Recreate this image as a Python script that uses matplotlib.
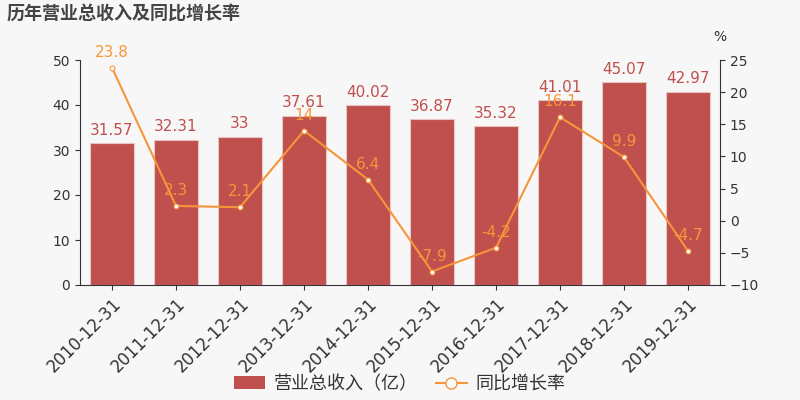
import numpy as np
import matplotlib.pyplot as plt
from matplotlib.patches import Patch
from matplotlib.lines import Line2D

plt.rcParams['font.family'] = ['DejaVu Sans', 'Noto Sans CJK SC']

dates = ["2010-12-31", "2011-12-31", "2012-12-31", "2013-12-31", "2014-12-31",
         "2015-12-31", "2016-12-31", "2017-12-31", "2018-12-31", "2019-12-31"]
revenue = [31.57, 32.31, 33, 37.61, 40.02, 36.87, 35.32, 41.01, 45.07, 42.97]
revenue_labels = ["31.57", "32.31", "33", "37.61", "40.02", "36.87", "35.32", "41.01", "45.07", "42.97"]
growth = [23.8, 2.3, 2.1, 14, 6.4, -7.9, -4.2, 16.1, 9.9, -4.7]
growth_labels = ["23.8", "2.3", "2.1", "14", "6.4", "-7.9", "-4.2", "16.1", "9.9", "-4.7"]

bar_color = '#c0504d'
line_color = '#f7953a'
bg = '#f7f7f7'
text_color = '#333333'

fig = plt.figure(figsize=(8, 4), dpi=100, facecolor=bg)
ax = fig.add_axes([0.1, 0.2875, 0.8, 0.5625], facecolor=bg)
x = np.arange(len(dates))

ax.bar(x, revenue, width=0.7, color=bar_color, edgecolor='#e8c4c3', linewidth=0.8, zorder=2)
for xi, v, lab in zip(x, revenue, revenue_labels):
    ax.text(xi, v + 1.2, lab, ha='center', va='bottom', color=bar_color, fontsize=11)

ax.set_ylim(0, 50)
ax.set_xlim(-0.5, len(dates) - 0.5)
ax.set_yticks([0, 10, 20, 30, 40, 50])
ax.set_xticks(x)
ax.set_xticklabels(dates, rotation=45, ha='right', rotation_mode='anchor', fontsize=12, color=text_color)
ax.tick_params(axis='y', labelsize=10, colors=text_color)
ax.tick_params(axis='x', colors=text_color)
for s in ['top', 'right']:
    ax.spines[s].set_visible(False)
ax.spines['left'].set_color(text_color)
ax.spines['bottom'].set_color(text_color)

ax2 = ax.twinx()
ax2.plot(x, growth, color=line_color, linewidth=1.5, marker='o', markersize=3.5,
         markerfacecolor='white', markeredgecolor=line_color, markeredgewidth=0.8, zorder=3)
for xi, v, lab in zip(x, growth, growth_labels):
    ax2.text(xi, v + 1.2, lab, ha='center', va='bottom', color=line_color, fontsize=11)
ax2.set_ylim(-10, 25)
ax2.set_yticks([-10, -5, 0, 5, 10, 15, 20, 25])
ax2.tick_params(axis='y', labelsize=10, colors=text_color)
for s in ['top', 'left', 'bottom']:
    ax2.spines[s].set_visible(False)
ax2.spines['right'].set_color(text_color)
ax2.text(1.0, 1.07, '%', transform=ax2.transAxes, ha='center', va='bottom', fontsize=10, color=text_color)

fig.text(0.008, 0.965, '历年营业总收入及同比增长率', fontsize=13, fontweight='bold', color='#444444', va='center')

handles = [Patch(facecolor=bar_color, label='营业总收入（亿）'),
           Line2D([0], [0], color=line_color, marker='o', markersize=8, markerfacecolor='white',
                  markeredgecolor=line_color, label='同比增长率')]
fig.legend(handles=handles, loc='center', bbox_to_anchor=(0.5, 0.04), ncol=2, frameon=False,
           fontsize=13, handlelength=1.7, handletextpad=0.5, columnspacing=1.0, labelcolor=text_color)

fig.savefig('out.png', dpi=100, facecolor=bg)
